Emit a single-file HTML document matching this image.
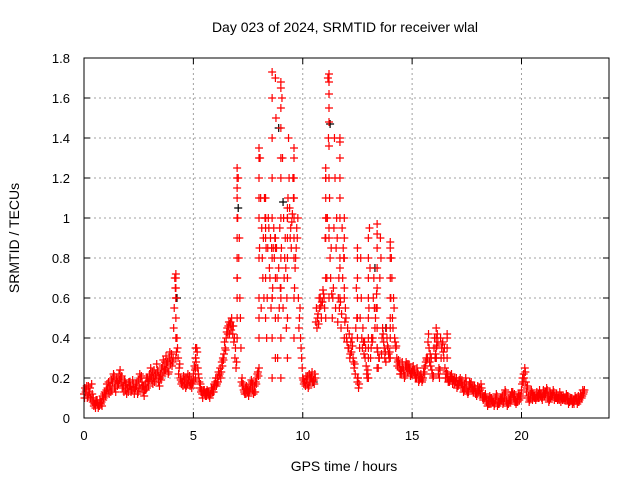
<!DOCTYPE html>
<html><head><meta charset="utf-8"><style>
body{margin:0;background:#fff;}
svg{display:block;font-family:"Liberation Sans",sans-serif;}
</style></head><body>
<svg id="c" width="640" height="480">
<text x="345" y="32" font-size="14" text-anchor="middle">Day 023 of 2024, SRMTID for receiver wlal</text>
<text x="344" y="471" font-size="14" text-anchor="middle">GPS time / hours</text>
<text transform="translate(19,238) rotate(-90)" font-size="14" text-anchor="middle">SRMTID / TECUs</text>
<g id="grid"></g>
<g id="marks"></g>
<g id="axes"></g>
</svg>
<script>
const xTicks=[0,5,10,15,20];
const yTicks=[0,0.2,0.4,0.6,0.8,1,1.2,1.4,1.6,1.8];
const yTickLabels=["0","0.2","0.4","0.6","0.8","1","1.2","1.4","1.6","1.8"];
const base1=[.12,.14,.16,.10,.08,.07,.09,.06,.08,.10,
.12,.14,.16,.18,.15,.20,.22,.18,.16,.14,
.15,.18,.14,.12,.16,.19,.15,.13,.17,.20,
.22,.19,.24,.20,.18,.22,.26,.28,.25,.30,
.32,.45,.60,.30,.20,.18,.17,.20,.18,.19,
.22,.30,.25,.15,.12,.14,.11,.13,.12,.15,
.18,.20,.22,.28,.32,.40,.46,.48,.42,.30,
.70,.90,.18,.14,.12,.15,.17,.14,.16,.20,
.25,.55,.90,1.00,.85,.70,.60,.80,.85,.75,
.65,.55,.90,1.00,1.05,.98,.90,.85,.60,.40,
.20,.18,.17,.22,.20,.19,.48,.52,.60,.58,
.55,.70,.95,.85,.65,.55,.48,.75,.95,.65,
.40,.35,.38,.30,.22,.18,.35,.40,.32,.26,
.35,.30,.40,.45,.35,.30,.32,.38,.28,.35,
.45,.50,.40,.30,.25,.22,.24,.26,.23,.25,
.22,.24,.20,.18,.22,.20,.26,.30,.28,.24,
.35,.30,.22,.40,.38,.25,.20,.18,.22,.19,
.18,.16,.20,.15,.17,.14,.16,.18,.13,.12,
.16,.14,.12,.10,.08,.09,.07,.08,.10,.06,
.08,.10,.12,.09,.07,.11,.13,.08,.10,.09,
.14,.22,.18,.10,.12,.09,.11,.13,.10,.12,
.14,.12,.10,.13,.11,.09,.12,.10,.08,.11,
.10,.09,.08,.10,.07,.09,.11,.12,.14];
const base2=[.15,.10,.13,.17,.06,.09,.05,.08,.11,.13,
.17,.12,.19,.22,.13,.18,.24,.15,.19,.12,
.18,.13,.17,.15,.12,.22,.18,.11,.20,.16,
.25,.17,.21,.24,.16,.25,.23,.31,.22,.27,
.28,.70,.40,.25,.17,.21,.15,.22,.16,.17,
.26,.35,.20,.13,.14,.11,.13,.10,.14,.17,
.16,.23,.20,.30,.35,.45,.42,.50,.38,.25,
1.20,.50,.16,.12,.14,.13,.19,.12,.18,.23,
1.30,.80,1.10,.40,.95,.55,.85,1.70,.30,.95,
1.60,.70,.45,1.40,.95,1.20,.75,.90,.50,.30,
.17,.21,.15,.20,.18,.22,.45,.60,.50,.62,
1.20,1.70,.80,.50,1.40,1.00,.70,.45,.85,.55,
.45,.30,.40,.25,.65,.15,.80,.45,.30,.20,
.95,.40,.70,.55,.25,.90,.45,.30,.40,.30,
.80,.60,.35,.28,.22,.28,.20,.25,.27,.22,
.26,.20,.23,.21,.18,.25,.30,.42,.26,.20,
.30,.42,.20,.35,.30,.22,.18,.21,.17,.20,
.15,.19,.17,.13,.20,.12,.15,.14,.16,.11,
.13,.17,.09,.12,.06,.11,.09,.06,.12,.08,
.10,.07,.14,.06,.09,.13,.10,.07,.12,.11,
.20,.25,.15,.08,.14,.11,.09,.10,.12,.09,
.11,.15,.08,.12,.14,.10,.09,.13,.10,.09,
.12,.07,.10,.08,.11,.07,.09,.10,.13];
const base3=[.10,.16,.12,.09,.10,.05,.07,.09,.06,.12,
.14,.18,.13,.20,.17,.16,.19,.21,.13,.17,
.13,.16,.19,.14,.18,.15,.21,.16,.14,.18,
.20,.23,.18,.27,.21,.19,.29,.24,.28,.33,
.26,.55,.33,.22,.19,.16,.20,.17,.21,.15,
.19,.28,.22,.17,.10,.12,.14,.11,.15,.13,
.20,.18,.25,.26,.38,.43,.48,.44,.46,.35,
1.00,.60,.20,.13,.16,.11,.15,.17,.13,.22,
.85,.95,.60,.85,1.00,.90,.65,.90,.70,.55,
.85,1.00,.75,1.10,.90,1.02,.65,.95,.45,.35,
.19,.16,.21,.18,.23,.17,.55,.47,.56,.64,
.90,1.00,1.10,.62,.95,.85,.60,.58,.70,.48,
.38,.42,.33,.28,.45,.20,.50,.35,.38,.22,
.55,.35,.60,.50,.33,.70,.40,.35,.45,.32,
.60,.45,.38,.26,.27,.24,.22,.28,.25,.21,
.24,.22,.25,.19,.20,.23,.28,.38,.32,.22,
.40,.36,.25,.30,.33,.20,.22,.19,.20,.17,
.20,.17,.18,.16,.15,.13,.18,.15,.14,.13,
.14,.12,.10,.11,.09,.07,.10,.08,.09,.07,
.09,.11,.10,.08,.10,.09,.11,.09,.08,.12,
.17,.20,.13,.11,.10,.12,.10,.11,.14,.10,
.12,.13,.11,.10,.12,.11,.10,.09,.11,.10,
.09,.11,.09,.07,.09,.10,.08,.11,.12];
const base4=[.13,.11,.15,.12,.07,.08,.06,.07,.09,.11,
.15,.16,.14,.21,.19,.17,.20,.16,.18,.15,
.16,.14,.15,.17,.13,.20,.16,.14,.15,.19,
.21,.20,.22,.23,.20,.21,.24,.27,.23,.29,
.30,.65,.35,.27,.18,.19,.16,.19,.17,.18,
.24,.33,.18,.14,.13,.13,.12,.12,.13,.16,
.17,.21,.23,.29,.34,.42,.47,.46,.40,.28,
.80,.35,.17,.15,.13,.14,.18,.13,.17,.21,
1.10,.70,1.00,.60,.75,.85,.95,1.50,.50,.65,
1.30,.80,.60,1.20,.85,1.10,.80,1.00,.55,.25,
.18,.19,.16,.21,.19,.20,.50,.55,.58,.60,
1.00,1.40,.70,.60,1.20,.90,.55,.52,.80,.50,
.35,.32,.36,.27,.50,.17,.60,.38,.35,.24,
.75,.38,.55,.62,.30,.80,.42,.33,.36,.33,
.70,.55,.36,.29,.24,.25,.21,.27,.24,.23,
.23,.21,.22,.20,.19,.22,.29,.35,.30,.21,
.32,.38,.24,.37,.35,.23,.19,.20,.19,.18,
.17,.18,.19,.14,.18,.13,.17,.16,.15,.12,
.15,.15,.11,.10,.07,.10,.08,.07,.11,.07,
.09,.08,.13,.07,.08,.12,.12,.08,.11,.10,
.18,.23,.16,.09,.13,.10,.10,.12,.11,.11,
.13,.14,.09,.11,.13,.10,.11,.11,.09,.10,
.11,.08,.09,.09,.10,.08,.10,.11,.14];
const spikeT=[4.2,5.1,7.0,8.0,8.3,8.6,8.75,9.0,9.3,9.6,11.2,11.05,11.7,11.9,12.5,13.0,13.4,14.0,16.1,16.6];
const spikeV=[[.3,.4,.5,.6,.65,.7,.72],[.2,.25,.3,.35],[.4,.5,.6,.7,.8,.9,1.0,1.1,1.15,1.2,1.25],
[.4,.5,.6,.8,1.0,1.1,1.2,1.3,1.35],[.5,.7,.9,1.0,1.1,.95],[.2,.4,.6,.8,1.0,1.2,1.4,1.6,1.73],
[.3,.5,.7,.85,.9],[.2,.4,.6,.8,1.0,1.2,1.3,1.45,1.55,1.65,1.68],[.3,.5,.7,.8,.9,1.0,1.05],
[.4,.6,.8,1.0,1.1,1.2,1.3,1.35],[.6,.9,1.2,1.36,1.48,1.55,1.62,1.68,1.72],[.5,.7,.9,1.0,1.1,1.2,1.25],
[.6,.8,1.0,1.1,1.2,1.3,1.38,1.4],[.4,.6,.8,.9,1.0],[.2,.4,.5,.6,.7,.8,.85],[.2,.3,.4,.5,.6,.7,.8,.9],
[.25,.35,.45,.55,.65,.75,.85,.92,.97],[.3,.4,.5,.6,.7,.8,.85,.88],[.3,.35,.4,.45],[.3,.35,.4,.42]];
const blackT=[4.25,7.05,8.9,9.1,11.25,13.3,13.8,10.5];
const blackV=[.6,1.05,1.45,1.08,1.47,.75,.45,.18];

const X0=84,X1=609,Y0=418,Y1=58;
const sx=t=>X0+t*(X1-X0)/24;
const sy=v=>Y0-v*(Y0-Y1)/1.8;
const NS="http://www.w3.org/2000/svg";
function mk(tag,attrs,parent){const e=document.createElementNS(NS,tag);for(const k in attrs)e.setAttribute(k,attrs[k]);parent.appendChild(e);return e;}
const grid=document.getElementById('grid'),marks=document.getElementById('marks'),axes=document.getElementById('axes');
xTicks.forEach(t=>{if(t>0){const l=mk('line',{x1:sx(t),x2:sx(t),y1:Y1,y2:Y0,stroke:'#a0a0a0','stroke-dasharray':'2,3'},grid);

}
const tx=mk('text',{x:sx(t),y:Y0+22,'font-size':13,'text-anchor':'middle'},axes);tx.textContent=t;


mk('line',{x1:sx(t),x2:sx(t),y1:Y0,y2:Y0-6,stroke:'#000'},axes);
mk('line',{x1:sx(t),x2:sx(t),y1:Y1,y2:Y1+6,stroke:'#000'},axes);});
yTicks.forEach((v,i)=>{if(i>0&&i<yTicks.length-1){const l=mk('line',{x1:X0,x2:X1,y1:sy(v),y2:sy(v),stroke:'#a0a0a0','stroke-dasharray':'2,3'},grid);

}
const tx=mk('text',{x:X0-14,y:sy(v)+5,'font-size':13,'text-anchor':'end'},axes);tx.textContent=yTickLabels[i];


mk('line',{x1:X0,x2:X0+6,y1:sy(v),y2:sy(v),stroke:'#000'},axes);
mk('line',{x1:X1,x2:X1-6,y1:sy(v),y2:sy(v),stroke:'#000'},axes);});
const fr=mk('rect',{x:X0,y:Y1,width:X1-X0,height:Y0-Y1,fill:'none',stroke:'#000'},axes);


function plus(t,v,c){const x=sx(t),y=sy(v);
const p=mk('path',{d:`M${x-4},${y}H${x+4}M${x},${y-4}V${y+4}`,stroke:c,'stroke-width':1.2,fill:'none'},marks);

}
blackT.forEach((t,i)=>plus(t,blackV[i],'#000'));
base1.forEach((v,i)=>plus(i*0.1,v,'#f00'));
base2.forEach((v,i)=>plus(i*0.1+0.05,v,'#f00'));
base3.forEach((v,i)=>plus(i*0.1+0.025,v,'#f00'));
base4.forEach((v,i)=>plus(i*0.1+0.075,v,'#f00'));
spikeT.forEach((t,i)=>spikeV[i].forEach(v=>plus(t,v,'#f00')));
</script>
</body></html>
